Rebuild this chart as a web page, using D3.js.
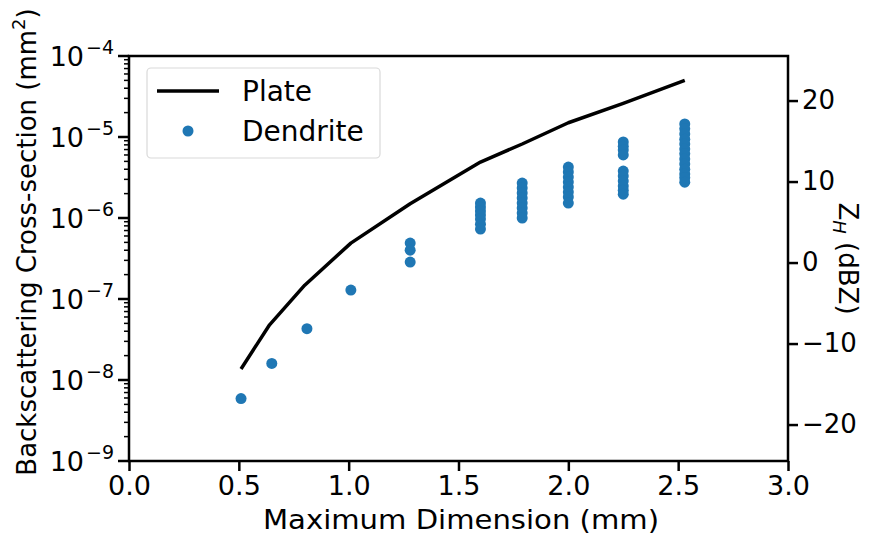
<!DOCTYPE html>
<html><head><meta charset="utf-8">
<script src="https://cdn.jsdelivr.net/npm/d3@7"></script>
<style>body{margin:0;background:#fff}svg{display:block}text{font-family:"DejaVu Sans",sans-serif;fill:#000}</style>
</head><body><svg id="c" width="891" height="537"></svg>
<script>
// Data
const plateX = [0.51, 0.64, 0.80, 1.01, 1.28, 1.60, 1.79, 2.00, 2.25, 2.53];
const plateY = [1.37e-8, 4.8e-8, 1.48e-7, 4.9e-7, 1.5e-6, 4.9e-6, 8.2e-6, 1.5e-5, 2.6e-5, 5.0e-5];
const dendriteX = [0.51, 0.65, 0.81, 1.01, 1.28, 1.60, 1.79, 2.00, 2.25, 2.53];
const dendriteY = [
  [5.9e-9],
  [1.6e-8],
  [4.3e-8],
  [1.29e-7],
  [4.9e-7, 4.0e-7, 2.86e-7],
  [1.53e-6, 1.37e-6, 1.22e-6, 1.09e-6, 9.7e-7, 8.4e-7, 7.3e-7],
  [2.7e-6, 2.35e-6, 2.04e-6, 1.77e-6, 1.53e-6, 1.33e-6, 1.15e-6, 1.0e-6],
  [4.26e-6, 3.7e-6, 3.2e-6, 2.78e-6, 2.41e-6, 2.09e-6, 1.82e-6, 1.53e-6],
  [8.7e-6, 7.7e-6, 6.9e-6, 6.0e-6, 3.8e-6, 3.3e-6, 2.86e-6, 2.48e-6, 2.2e-6, 1.97e-6],
  [1.45e-5, 1.26e-5, 1.09e-5, 9.4e-6, 8.2e-6, 7.1e-6, 6.2e-6, 5.35e-6, 4.65e-6, 4.0e-6, 3.5e-6, 3.13e-6, 2.77e-6]
];
const xTicks = [0.0, 0.5, 1.0, 1.5, 2.0, 2.5, 3.0];
const yTickExps = [-9, -8, -7, -6, -5, -4];
const zTicks = [-20, -10, 0, 10, 20];
const zOffset = 65.5; // dBZ = 10*log10(sigma) + offset
const legendLabels = ["Plate", "Dendrite"];

const svg = d3.select("#c");
const L = 129, R = 788, T = 56, B = 461;
const x = d3.scaleLinear().domain([0, 3]).range([L, R]);
const y = d3.scaleLog().domain([1e-9, 1e-4]).range([B, T]);
const z = d3.scaleLinear().domain([-90 + zOffset, -40 + zOffset]).range([B, T]);
const blue = "#1f77b4";
const fs = 27;

// dendrite points
const pts = [];
dendriteX.forEach((dx, i) => dendriteY[i].forEach(v => pts.push([dx, v])));
svg.append("g").selectAll("circle").data(pts).join("circle")
  .attr("cx", d => x(d[0])).attr("cy", d => y(d[1])).attr("r", 5.5).attr("fill", blue);

// plate line
svg.append("path").datum(plateX.map((v, i) => [v, plateY[i]]))
  .attr("d", d3.line().x(d => x(d[0])).y(d => y(d[1])))
  .attr("fill", "none").attr("stroke", "#000").attr("stroke-width", 3.5).attr("stroke-linejoin", "round");

// frame
svg.append("rect").attr("x", L).attr("y", T).attr("width", R - L).attr("height", B - T)
  .attr("fill", "none").attr("stroke", "#000").attr("stroke-width", 2.5);

// x axis
const gx = svg.append("g").attr("transform", `translate(0,${B})`)
  .call(d3.axisBottom(x).tickValues(xTicks).tickFormat(d3.format(".1f")).tickSize(10).tickPadding(5));
gx.select(".domain").remove();
gx.selectAll("line").attr("stroke-width", 2.5);
gx.selectAll("text").style("font-size", fs + "px").style("font-family", "DejaVu Sans");

// y axis left: major + minor
const minor = [];
yTickExps.slice(0, -1).forEach(e => { for (let k = 2; k <= 9; k++) minor.push(k * Math.pow(10, e)); });
const gy = svg.append("g");
gy.selectAll("line.mn").data(minor).join("line").attr("class", "mn")
  .attr("x1", L).attr("x2", L - 5).attr("y1", d => y(d)).attr("y2", d => y(d))
  .attr("stroke", "#000").attr("stroke-width", 1.5);
gy.selectAll("line.mj").data(yTickExps).join("line").attr("class", "mj")
  .attr("x1", L).attr("x2", L - 11).attr("y1", d => y(Math.pow(10, d))).attr("y2", d => y(Math.pow(10, d)))
  .attr("stroke", "#000").attr("stroke-width", 2.5);
const yl = gy.selectAll("text").data(yTickExps).join("text")
  .attr("x", L - 15).attr("y", d => y(Math.pow(10, d)) + 10)
  .attr("text-anchor", "end").style("font-size", fs + "px");
yl.append("tspan").text("10");
yl.append("tspan").attr("dx", 2).attr("dy", -12).style("font-size", "19px").text(d => "\u2212" + Math.abs(d));

// right axis
const gz = svg.append("g").attr("transform", `translate(${R},0)`)
  .call(d3.axisRight(z).tickValues(zTicks).tickFormat(d => d < 0 ? "\u2212" + Math.abs(d) : d).tickSize(10).tickPadding(4));
gz.select(".domain").remove();
gz.selectAll("line").attr("stroke-width", 2.5);
gz.selectAll("text").style("font-size", "26px").style("font-family", "DejaVu Sans");

// axis labels
svg.append("text").attr("x", 461).attr("y", 529).attr("text-anchor", "middle")
  .attr("textLength", 396).attr("lengthAdjust", "spacingAndGlyphs")
  .style("font-size", "27px").text("Maximum Dimension (mm)");
const ylab = svg.append("text").attr("transform", `translate(36,242) rotate(-90)`)
  .attr("text-anchor", "middle").style("font-size", "26px");
ylab.append("tspan").text("Backscattering Cross-section (mm");
ylab.append("tspan").attr("dy", -11).style("font-size", "18px").text("2");
ylab.append("tspan").attr("dy", 11).text(")");
const zlab = svg.append("text").attr("transform", `translate(839,${(T + B) / 2}) rotate(90)`)
  .attr("text-anchor", "middle").style("font-size", "26px");
zlab.append("tspan").text("Z");
zlab.append("tspan").attr("dy", 6).style("font-size", "18px").style("font-style", "italic").text("H");
zlab.append("tspan").attr("dy", -6).text(" (dBZ)");

// legend
const lg = svg.append("g");
lg.append("rect").attr("x", 147).attr("y", 68).attr("width", 233).attr("height", 90).attr("rx", 4)
  .attr("fill", "#fff").attr("fill-opacity", 0.8).attr("stroke", "#d9d9d9").attr("stroke-width", 1.2);
lg.append("line").attr("x1", 157).attr("x2", 219).attr("y1", 91).attr("y2", 91)
  .attr("stroke", "#000").attr("stroke-width", 3.5);
lg.append("circle").attr("cx", 188).attr("cy", 131).attr("r", 5.5).attr("fill", blue);
lg.selectAll("text").data(legendLabels).join("text")
  .attr("x", 242).attr("y", (d, i) => 101 + i * 40).style("font-size", "28px").text(d => d);
</script></body></html>
